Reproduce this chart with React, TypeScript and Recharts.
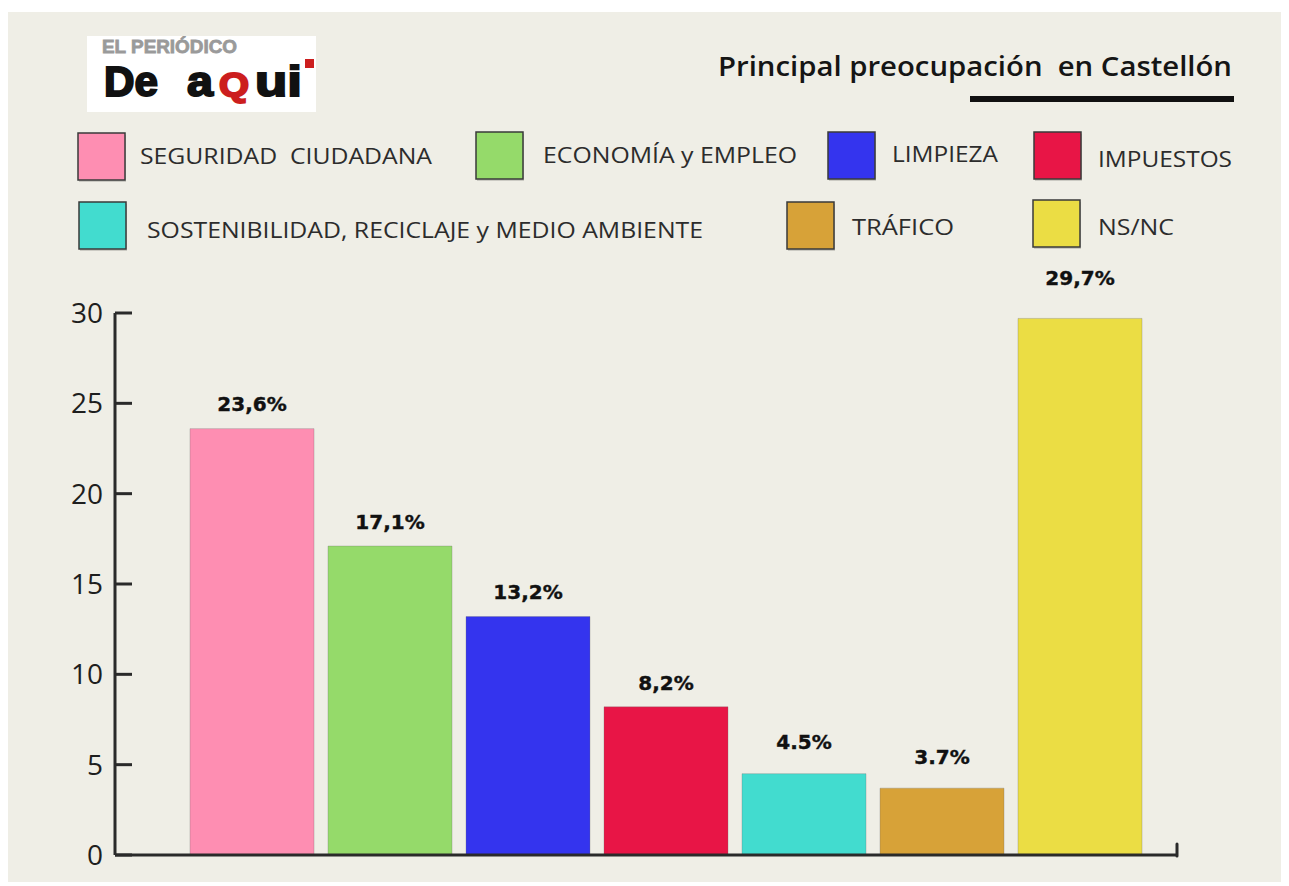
import React from "react";
import { BarChart, Bar, XAxis, YAxis, Cell, LabelList } from "recharts";

const categories = [
  "SEGURIDAD  CIUDADANA",
  "ECONOMÍA y EMPLEO",
  "LIMPIEZA",
  "IMPUESTOS",
  "SOSTENIBILIDAD, RECICLAJE y MEDIO AMBIENTE",
  "TRÁFICO",
  "NS/NC",
];
const values = [23.6, 17.1, 13.2, 8.2, 4.5, 3.7, 29.7];
const valueLabels = ["23,6%", "17,1%", "13,2%", "8,2%", "4.5%", "3.7%", "29,7%"];
const colors = ["#FE8EB2", "#95DA6A", "#3434EE", "#E81546", "#42DCCF", "#D7A238", "#EBDD44"];
const yTicks = [0, 5, 10, 15, 20, 25, 30];
const titleText = "Principal preocupación  en Castellón";

const data = categories.map((c, i) => ({ name: c, value: values[i], label: valueLabels[i] }));

const W = 1283;
const H = 874;
const BG = "#EFEEE6";
const AXIS = "#2a2a2a";
const TICK_MARGIN = 12;
const Y_AXIS_W = 60;
const X_AXIS_H = 1;
const margin = { top: 301, right: 111, bottom: 31 - X_AXIS_H, left: 109 - Y_AXIS_W };

// distance from bar top to label centre, per bar (layout only)
const labelGaps = [25, 24, 25, 24, 32, 31, 40];

// legend layout (positions only)
const legendPos = [
  { sx: 72, sy: 121, tx: 134, ty: 144, tw: 292 },
  { sx: 470, sy: 120, tx: 537, ty: 143, tw: 254 },
  { sx: 822, sy: 120, tx: 886, ty: 142, tw: 106 },
  { sx: 1028, sy: 120, tx: 1092, ty: 147, tw: 134 },
  { sx: 73, sy: 190, tx: 141, ty: 218, tw: 556 },
  { sx: 781, sy: 190, tx: 846, ty: 215, tw: 102 },
  { sx: 1027, sy: 188, tx: 1092, ty: 215, tw: 76 },
];

const YTick = (props: any) => {
  const { x, y, payload } = props;
  return (
    <g>
      <line x1={x + TICK_MARGIN} x2={x + TICK_MARGIN + 17} y1={y} y2={y} stroke={AXIS} strokeWidth={3} />
      <text x={x} y={y} dy={10} textAnchor="end" fontFamily="'Open Sans', sans-serif" fontSize={28} fill="#1e1e1e">
        {payload.value}
      </text>
    </g>
  );
};

const BarLabel = (props: any) => {
  const { x, y, width, value } = props;
  let idx = typeof props.index === "number" ? props.index : valueLabels.indexOf(value);
  if (idx < 0) idx = 0;
  const gap = labelGaps[idx] ?? 25;
  return (
    <text
      x={Number(x) + Number(width) / 2}
      y={Number(y) - gap + 7}
      textAnchor="middle"
      fill="#111"
      stroke="#111"
      strokeWidth={0.4}
      fontFamily="'DejaVu Sans', sans-serif"
      fontWeight={700}
      fontSize={20}
    >
      {value}
    </text>
  );
};

const LOGO_FONT = "'Liberation Sans', Arial, sans-serif";

export default function App() {
  const plotRight = W - margin.right;
  const plotBottom = H - 31;
  return (
    <div style={{ position: "relative", left: -2, top: 4, width: W, height: H, background: BG }}>
      <BarChart width={W} height={H} data={data} margin={margin}>
        <YAxis
          width={Y_AXIS_W}
          domain={[0, 30]}
          ticks={yTicks}
          interval={0}
          tickSize={0}
          tickMargin={TICK_MARGIN}
          tickLine={false}
          axisLine={{ stroke: AXIS, strokeWidth: 3 }}
          tick={<YTick />}
        />
        <XAxis
          dataKey="name"
          height={X_AXIS_H}
          tick={false}
          tickLine={false}
          axisLine={{ stroke: AXIS, strokeWidth: 3 }}
          padding={{ left: 68, right: 29 }}
        />
        <Bar dataKey="value" barSize={124} isAnimationActive={false} stroke="rgba(110,110,110,0.3)" strokeWidth={1}>
          {data.map((d, i) => (
            <Cell key={d.name} fill={colors[i]} />
          ))}
          <LabelList dataKey="label" content={<BarLabel />} />
        </Bar>
      </BarChart>
      <svg width={W} height={H} style={{ position: "absolute", left: 0, top: 0, pointerEvents: "none" }}>
        {/* right end mark of x axis */}
        <path
          d={`M ${plotRight - 1} ${plotBottom - 11} L ${plotRight - 1} ${plotBottom + 1}`}
          stroke={AXIS}
          strokeWidth={3}
          strokeLinecap="round"
        />
        {/* logo */}
        <rect x={81} y={24} width={229} height={76} fill="#ffffff" />
        <text x={96} y={41} fontFamily={LOGO_FONT} fontWeight={700} fontSize={19} fill="#9a9a9a" stroke="#9a9a9a" strokeWidth={0.8} textLength={135} lengthAdjust="spacingAndGlyphs">
          EL PERIÓDICO
        </text>
        <text x={98} y={84} fontFamily={LOGO_FONT} fontWeight={700} fontSize={43} fill="#111" stroke="#111" strokeWidth={2} textLength={54} lengthAdjust="spacingAndGlyphs">
          De
        </text>
        <text x={181} y={84} fontFamily={LOGO_FONT} fontWeight={700} fontSize={43} fill="#111" stroke="#111" strokeWidth={2} textLength={26} lengthAdjust="spacingAndGlyphs">
          a
        </text>
        <text x={213} y={84} fontFamily={LOGO_FONT} fontWeight={700} fontSize={33} fill="#cc1e1e" stroke="#cc1e1e" strokeWidth={2} textLength={30} lengthAdjust="spacingAndGlyphs">
          Q
        </text>
        <text x={249} y={84} fontFamily={LOGO_FONT} fontWeight={700} fontSize={43} fill="#111" stroke="#111" strokeWidth={2} textLength={47} lengthAdjust="spacingAndGlyphs">
          ui
        </text>
        <rect x={299} y={47} width={9} height={9} fill="#cc1e1e" />
        {/* title */}
        <text x={712} y={64} fontFamily="'Open Sans', sans-serif" fontWeight={600} fontSize={27} fill="#151515" textLength={514} lengthAdjust="spacingAndGlyphs" style={{ whiteSpace: "pre" }}>
          {titleText}
        </text>
        <rect x={964} y={84} width={264} height={6} fill="#111" />
        {/* legend */}
        {categories.map((c, i) => {
          const p = legendPos[i];
          return (
            <g key={c}>
              <rect x={p.sx + 1} y={p.sy + 2} width={47} height={47} fill="rgba(0,0,0,0.15)" />
              <rect x={p.sx} y={p.sy} width={47} height={47} fill={colors[i]} stroke="#3a3a3a" strokeWidth={1.5} />
              <text
                x={p.tx}
                y={p.ty}
                dy={8}
                fontFamily="'Open Sans', sans-serif"
                fontSize={21}
                fill="#2c2c2c"
                textLength={p.tw}
                lengthAdjust="spacingAndGlyphs"
                style={{ whiteSpace: "pre" }}
              >
                {c}
              </text>
            </g>
          );
        })}
      </svg>
    </div>
  );
}
